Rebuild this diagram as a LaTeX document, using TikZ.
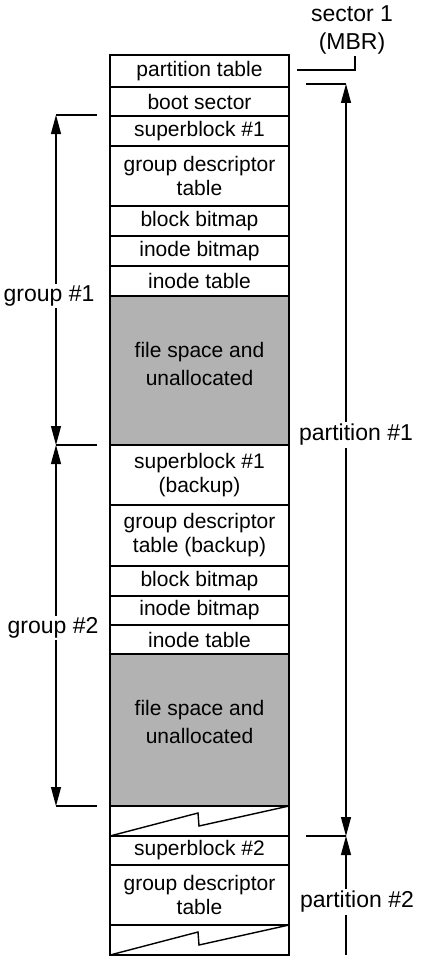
\documentclass[tikz,border=0pt]{standalone}
\usepackage{fontspec}
\setmainfont{Liberation Sans}
\usetikzlibrary{arrows.meta,calc}
\begin{document}
\begin{tikzpicture}[x=1pt,y=-1pt,
  row/.style={draw,line width=1.6pt,minimum width=179pt,anchor=north,inner sep=0pt,outer sep=0pt,
    font=\fontsize{21}{24}\selectfont,align=center},
  shaded/.style={row,fill=black!30},
  lbl/.style={font=\fontsize{23}{28}\selectfont,align=center,fill=white,inner sep=2pt},
  tri/.tip={Triangle[length=19pt,width=10pt]},
  arr/.style={line width=1.1pt},
  tick/.style={line width=1.1pt}]
\useasboundingbox (0,0) rectangle (420,963);
% rows
\node[row,minimum height=32pt] (pt) at (199.5,55) {partition table};
\node[row,minimum height=29pt] (bs) at (199.5,87) {boot sector};
\node[row,minimum height=30pt] (sb1) at (199.5,116) {superblock \#1};
\node[row,minimum height=60pt] (gdt1) at (199.5,146) {group descriptor\\table};
\node[row,minimum height=30pt] (bb1) at (199.5,206) {block bitmap};
\node[row,minimum height=30pt] (ib1) at (199.5,236) {inode bitmap};
\node[row,minimum height=30pt] (it1) at (199.5,266) {inode table};
\node[shaded,minimum height=149pt] (fs1) at (199.5,296) {};
\node[font=\fontsize{21}{28}\selectfont,align=center] (fs1t) at ($(fs1.center)+(0,-7)$) {file space and\\unallocated};
\node[row,minimum height=60pt] (sb1b) at (199.5,445) {superblock \#1\\(backup)};
\node[row,minimum height=61pt] (gdt1b) at (199.5,505) {group descriptor\\table (backup)};
\node[row,minimum height=30pt] (bb2) at (199.5,566) {block bitmap};
\node[row,minimum height=29pt] (ib2) at (199.5,596) {inode bitmap};
\node[row,minimum height=29pt] (it2) at (199.5,625) {inode table};
\node[shaded,minimum height=152pt] (fs2) at (199.5,654) {};
\node[font=\fontsize{21}{28}\selectfont,align=center] (fs2t) at ($(fs2.center)+(0,-8)$) {file space and\\unallocated};
\node[row,minimum height=30pt] (z1) at (199.5,806) {};
\node[row,minimum height=29pt] (sb2) at (199.5,836) {superblock \#2};
\node[row,minimum height=60pt] (gdt2) at (199.5,865) {group descriptor\\table};
\node[row,minimum height=30pt] (z2) at (199.5,925) {};
% zigzags
\draw[line width=1.4pt] (z1.south west) -- ($(z1.south west)+(88,-23)$) -- ($(z1.south west)+(89,-10)$) -- (z1.north east);
\draw[line width=1.4pt] (z2.south west) -- ($(z2.south west)+(88,-23)$) -- ($(z2.south west)+(89,-10)$) -- (z2.north east);
% group arrows
\coordinate (g1top) at (56,115);
\coordinate (g1bot) at (56,445);
\coordinate (g2bot) at (56,806);
\coordinate (g1topt) at (97,115);
\coordinate (g1bott) at (97,445);
\coordinate (g2bott) at (97,806);
\draw[tick] (g1top) -- (g1topt);
\draw[tick] (g1bot) -- (g1bott);
\draw[tick] (g2bot) -- (g2bott);
\draw[arr,tri-tri] (g1top) -- (g1bot);
\draw[arr,tri-tri] (g1bot) -- (g2bot);
\node[lbl] (g1l) at (49,296) {group \#1};
\node[lbl] (g2l) at (53,628) {group \#2};
% partition arrows
\coordinate (p1top) at (346,84);
\coordinate (p1bot) at (346,836);
\coordinate (p2end) at (346,955);
\coordinate (p1topt) at (306,84);
\coordinate (p1bott) at (306,836);
\draw[tick] (p1top) -- (p1topt);
\draw[tick] (p1bot) -- (p1bott);
\draw[arr,tri-tri] (p1top) -- (p1bot);
\draw[arr,tri-] (p1bot) -- (p2end);
\node[lbl] (p1l) at (356,435) {partition \#1};
\node[lbl] (p2l) at (357,902) {partition \#2};
% sector 1
\node[lbl] (mbr) at (352,30) {sector 1\\(MBR)};
\coordinate (mbrs) at (297,70);
\coordinate (mbrc) at (355,70);
\draw[tick] (mbrs) -- (mbrc) -- (mbr.south -| mbrc);
\end{tikzpicture}
\end{document}
